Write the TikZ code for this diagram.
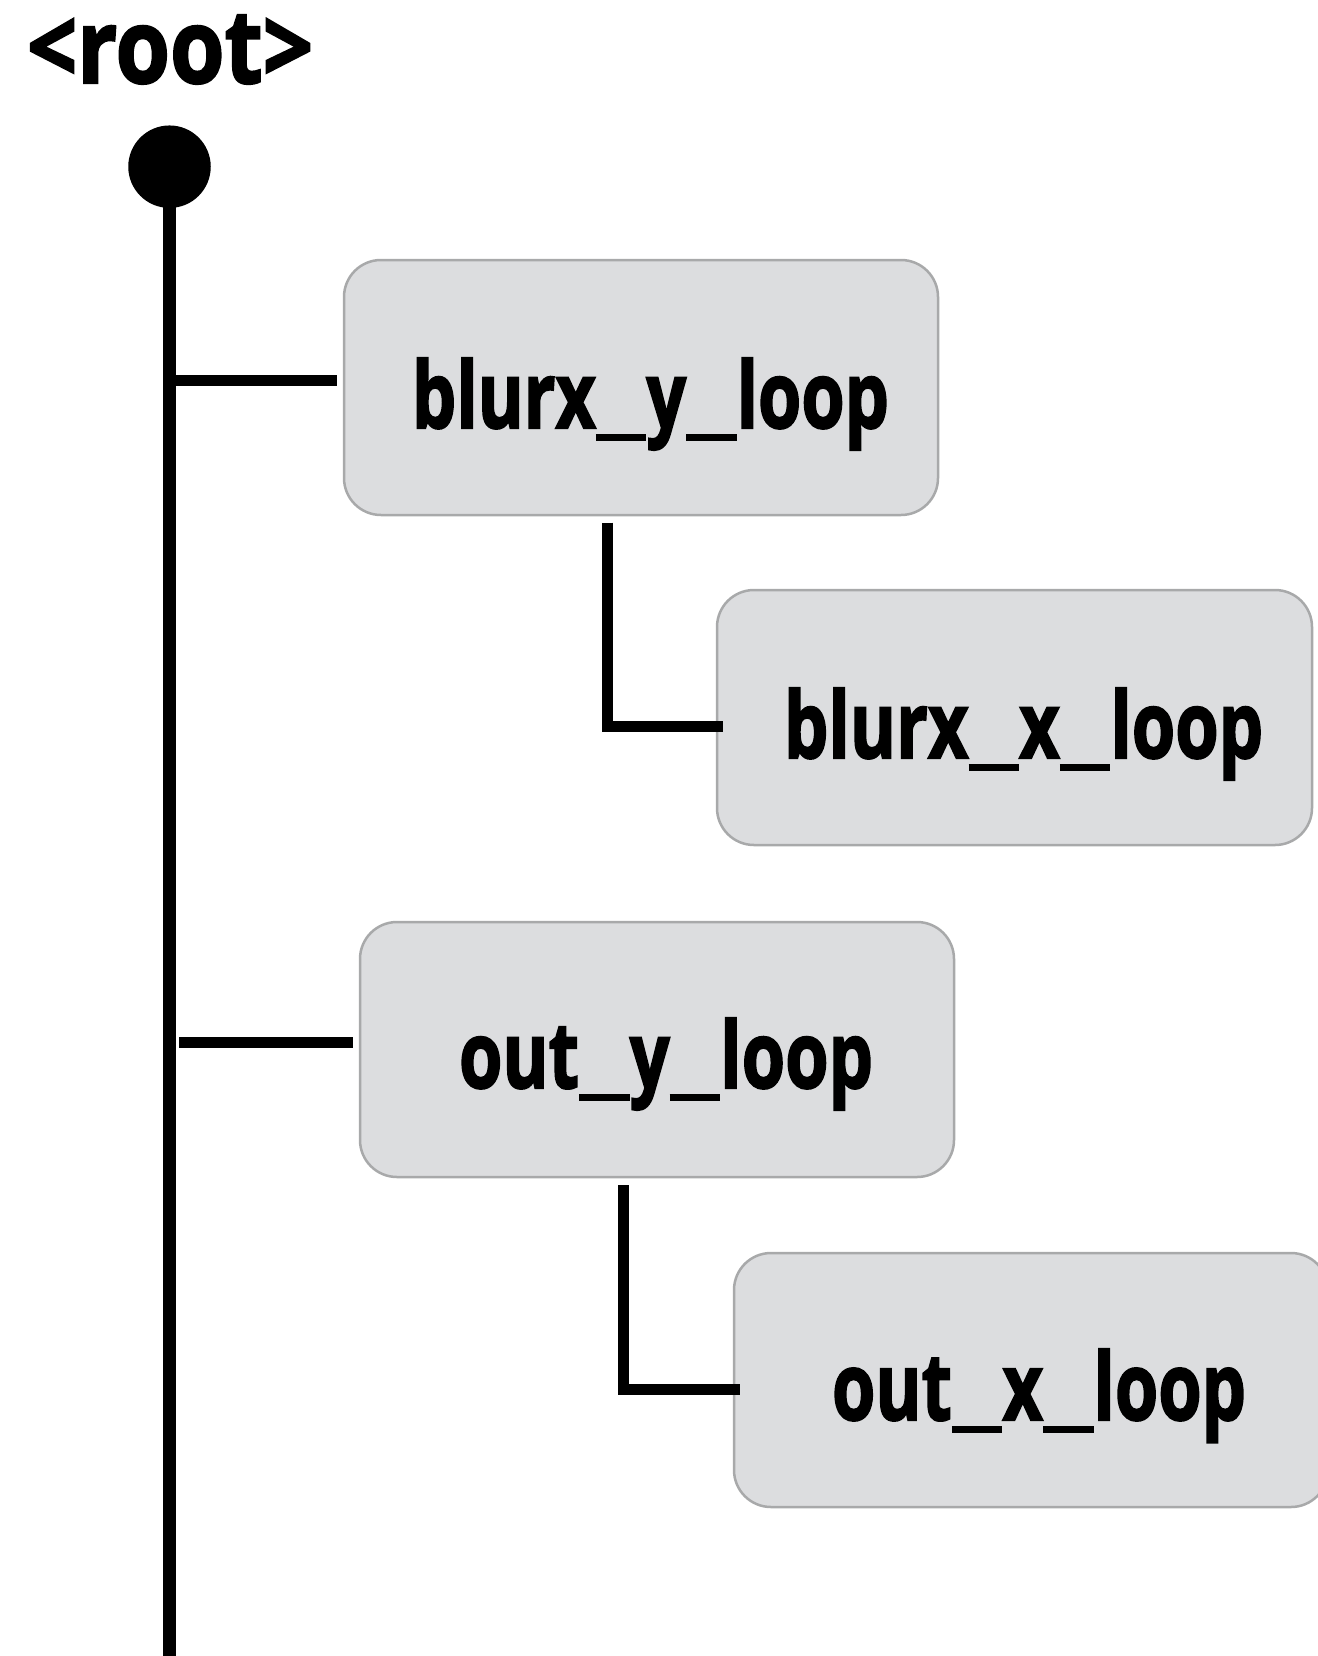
\documentclass[tikz,border=0pt]{standalone}
\usepackage{fontspec}
\usepackage{graphicx}
\newfontfamily\labelfont{Open Sans}[BoldFeatures={FakeBold=2.2}]
% wide, low underscore used inside loop names
\newcommand\ubar{\rule[-0.14em]{0.72em}{0.075em}}
% squeeze a label to a given ink width and ascender height (in bp)
\newcommand\fitlabel[3]{\resizebox{#1bp}{#2bp}{\labelfont\bfseries #3}}
\definecolor{boxfill}{RGB}{220,221,223}
\definecolor{boxline}{RGB}{168,169,170}
\tikzset{
  loopbox/.style={draw=boxline, line width=2.5bp, fill=boxfill,
    rounded corners=37bp, inner sep=0pt},
  looplabel/.style={anchor=base west, inner sep=0pt, outer sep=0pt},
  trunk/.style={line width=13bp, black},
  branch/.style={line width=10.5bp, black, miter limit=10},
}
\begin{document}
\begin{tikzpicture}[x=1bp, y=-1bp]
\useasboundingbox (0,0) rectangle (1318,1656);
\clip (0,0) rectangle (1318,1656);

% root marker and trunk
\node[looplabel] (rootlabel) at (27,83) {\fitlabel{286}{68}{<root>}};
\node[circle, fill=black, minimum size=82.5bp, inner sep=0pt] (rootdot) at (169.5,166.7) {};
\coordinate (trunkend) at (169.5,1670);
\draw[trunk] (rootdot.center) -- (trunkend);

% loop boxes
\node[loopbox, minimum width=594bp, minimum height=255bp] (b1) at (641,387.5) {};
\node[loopbox, minimum width=595bp, minimum height=255bp] (b2) at (1014.5,717.5) {};
\node[loopbox, minimum width=594bp, minimum height=255bp] (b3) at (657,1049.5) {};
\node[loopbox, minimum width=594bp, minimum height=254bp] (b4) at (1031,1380) {};

% loop names
\node[looplabel] (t1) at (412,428) {\fitlabel{477}{70}{blurx\ubar y\ubar loop}};
\node[looplabel] (t2) at (784,758) {\fitlabel{479}{70}{blurx\ubar x\ubar loop}};
\node[looplabel] (t3) at (459,1088) {\fitlabel{414}{70}{out\ubar y\ubar loop}};
\node[looplabel] (t4) at (832,1420) {\fitlabel{414}{71}{out\ubar x\ubar loop}};

% attachment points
\coordinate (j1a) at (169.5,380.5);
\coordinate (j1b) at (337,380.5);
\coordinate (j3a) at (179,1042.7);
\coordinate (j3b) at (353,1042.7);
\coordinate (j2a) at (607.7,522.7);
\coordinate (j2b) at (723.3,726.7);
\coordinate (j4a) at (623.7,1185);
\coordinate (j4b) at (740,1389.7);

% connectors
\draw[branch] (j1a) -- (j1b);
\draw[branch] (j3a) -- (j3b);
\draw[branch] (j2a) |- (j2b);
\draw[branch] (j4a) |- (j4b);
\end{tikzpicture}
\end{document}
